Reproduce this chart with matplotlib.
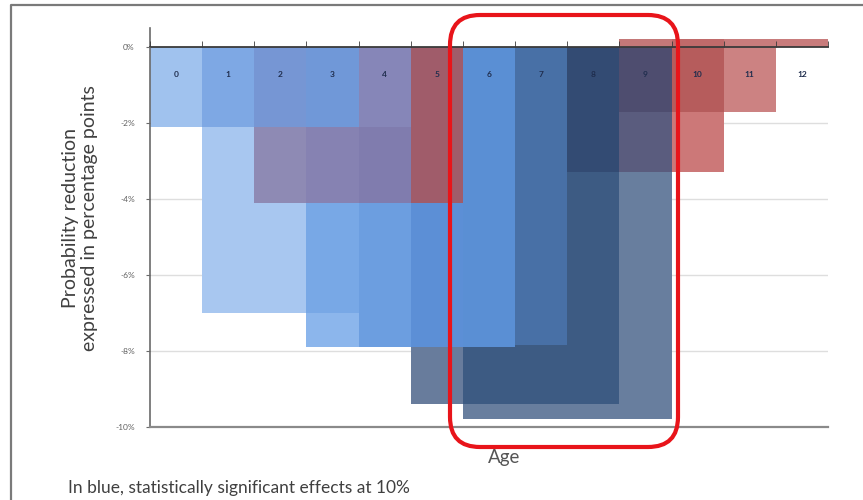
"""
Overlapping age-window effects on probability (percentage points).
"""

import matplotlib

matplotlib.use("Agg")
import matplotlib.pyplot as plt
import numpy as np
from matplotlib.lines import Line2D
from matplotlib.patches import FancyBboxPatch
from matplotlib.ticker import FuncFormatter

plt.rcParams["font.family"] = ["Lato", "DejaVu Sans"]

AGES = list(range(13))

# value edges of the visible blocks in each age column, top to bottom (%)
SEGMENT_EDGES = [
    [0, -2.1],
    [0, -2.1, -7.0],
    [0, -2.1, -4.1, -7.0],
    [0, -2.1, -4.1, -7.0, -7.9],
    [0, -2.1, -4.1, -7.9],
    [0, -4.1, -7.9, -9.4],
    [0, -7.9, -9.4, -9.8],
    [0, -7.85, -9.4, -9.8],
    [0, -3.3, -9.4, -9.8],
    [0.2, 0, -1.7, -3.3, -9.8],
    [0.2, 0, -1.7, -3.3],
    [0.2, 0, -1.7],
    [0.2, 0],
]

SEGMENT_COLORS = [
    ["#a0c2ee"],
    ["#7ea8e4", "#a8c7f0"],
    ["#7696d4", "#8e8ab4", "#a8c7f0"],
    ["#7098d8", "#8682b2", "#78a8e6", "#8cb6ec"],
    ["#8686b8", "#807cae", "#6c9ee0"],
    ["#a05c6a", "#5c8fd6", "#687c9c"],
    ["#5a8fd4", "#3d5b83", "#687e9e"],
    ["#4870a6", "#3d5b83", "#687e9e"],
    ["#334b73", "#3d5b83", "#687e9e"],
    ["#c47878", "#4e4d6f", "#5a5c7e", "#687e9e"],
    ["#c06a6a", "#b65c5c", "#cc7878"],
    ["#c87c7c", "#cc8282"],
    ["#c87c7c"],
]

Y_TICKS = [0, -2, -4, -6, -8, -10]
GRID_LEVELS = [-2, -4, -6, -8]

W, H = 863, 500


def main() -> None:
    fig = plt.figure(figsize=(W / 100, H / 100), dpi=100)
    ax = fig.add_axes([150 / W, 1 - 427 / H, (828 - 150) / W, (427 - 28) / H])
    ax.set_axisbelow(False)

    for level in GRID_LEVELS:
        ax.axhline(level, color="#dedede", lw=1.0, zorder=0)

    for age, edges, colors in zip(AGES, SEGMENT_EDGES, SEGMENT_COLORS):
        for top, bottom, color in zip(edges[:-1], edges[1:], colors):
            ax.bar(age, top - bottom, bottom=bottom, width=1.0, color=color,
                   linewidth=0, zorder=1)

    ax.set_xlim(-0.5, 12.5)
    ax.set_ylim(-10, 0.5)

    # category axis sits on the zero line, labels drawn inside the bars
    ax.spines["bottom"].set_position(("data", 0))
    ax.spines["bottom"].set_color("#3a3a3a")
    ax.spines["bottom"].set_linewidth(1.3)
    ax.spines["top"].set_visible(False)
    ax.spines["right"].set_visible(False)
    ax.spines["left"].set_color("#6a6a6a")
    ax.spines["left"].set_linewidth(1.2)

    ax.set_xticks(AGES)
    ax.set_xticklabels([str(a) for a in AGES], fontsize=6, fontweight="bold",
                       color="#1f2d4d")
    ax.set_xticks(np.arange(-0.5, 13, 1), minor=True)
    ax.tick_params(axis="x", which="major", length=0, pad=17)
    ax.tick_params(axis="x", which="minor", direction="in", length=4,
                   color="#3a3a3a")

    ax.set_yticks(Y_TICKS)
    ax.yaxis.set_major_formatter(FuncFormatter(lambda v, _: f"{v:.0f}%"))
    ax.tick_params(axis="y", length=3, color="#6a6a6a", labelsize=6,
                   labelcolor="#606060", pad=8)

    ax.axhline(-10, color="#8a8a8a", lw=1.6, clip_on=False, zorder=3)

    fig.text(80 / W, 1 - 218 / H,
             "Probability reduction\nexpressed in percentage points",
             rotation=90, ha="center", va="center", multialignment="center",
             fontsize=14, color="#404040", linespacing=1.15)
    fig.text(504 / W, 1 - 458 / H, "Age", ha="center", va="center",
             fontsize=13.5, color="#555555")
    fig.text(68 / W, 1 - 488 / H,
             "In blue, statistically significant effects at 10%",
             ha="left", va="center", fontsize=12.5, color="#404040")

    # highlight box around ages 6-9
    fig.add_artist(FancyBboxPatch(
        (4.50, 0.53), 2.28, 4.32,
        boxstyle="round,pad=0,rounding_size=0.3",
        transform=fig.dpi_scale_trans, fill=False, edgecolor="#e8141a",
        linewidth=3.0, zorder=10))

    # outer frame (top and left edges visible)
    fig.add_artist(Line2D([0.11, 0.11, 8.7], [-0.1, 4.95, 4.95],
                          transform=fig.dpi_scale_trans, color="#7a7a7a",
                          lw=1.6))

    fig.savefig("out.png", dpi=100)
    plt.close(fig)


if __name__ == "__main__":
    main()
